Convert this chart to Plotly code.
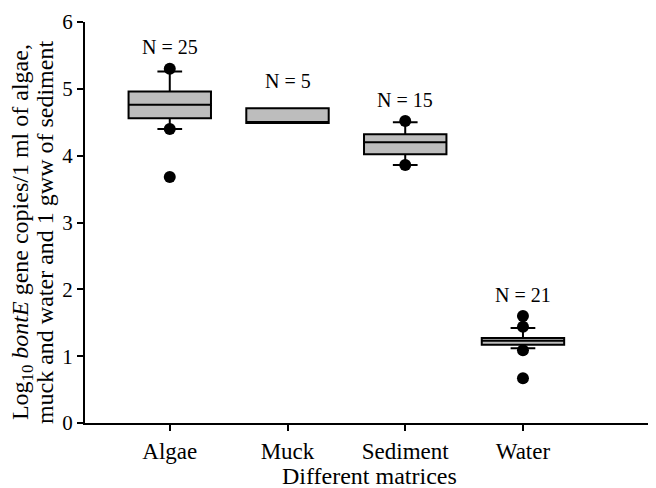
import plotly.graph_objects as go

categories = ["Algae", "Muck", "Sediment", "Water"]
q1 = [4.56, 4.49, 4.02, 1.17]
median = [4.76, 4.49, 4.20, 1.23]
q3 = [4.96, 4.71, 4.32, 1.27]
lower_whisker = [4.40, 4.49, 3.86, 1.12]
upper_whisker = [5.26, 4.71, 4.50, 1.42]

outlier_x = ["Algae", "Algae", "Algae", "Sediment", "Sediment", "Water", "Water", "Water", "Water"]
outlier_y = [5.30, 4.40, 3.68, 4.52, 3.86, 1.60, 1.44, 1.09, 0.67]

n_labels = ["N = 25", "N = 5", "N = 15", "N = 21"]
n_label_y = [5.62, 5.12, 4.83, 1.92]

y_title_lines = ["Log<sub>10</sub> <i>bontE</i> gene copies/1 ml of algae,",
                 "muck and water and 1 gww of sediment"]
x_title = "Different matrices"

font_family = "Liberation Serif, Times New Roman, serif"

fig = go.Figure()
fig.add_trace(go.Box(
    x=categories, q1=q1, median=median, q3=q3,
    lowerfence=lower_whisker, upperfence=upper_whisker,
    boxpoints=False, width=0.7, whiskerwidth=0.3,
    fillcolor="#bdbdbd", line=dict(color="black", width=2),
    showlegend=False, hoverinfo="skip",
))
fig.add_trace(go.Scatter(
    x=outlier_x, y=outlier_y, mode="markers",
    marker=dict(color="black", size=12),
    showlegend=False, hoverinfo="skip",
))
for c, t, yv in zip(categories, n_labels, n_label_y):
    fig.add_annotation(x=c, y=yv, text=t, showarrow=False,
                       font=dict(family=font_family, size=20, color="black"))

# y-axis title (two lines, tight spacing)
for shift, line in zip([-63, -40], y_title_lines):
    fig.add_annotation(xref="paper", yref="paper", x=0, y=0.476, xshift=shift,
                       xanchor="center", yanchor="middle", textangle=-90,
                       text=line, showarrow=False,
                       font=dict(family=font_family, size=24, color="black"))
# x-axis title
fig.add_annotation(xref="paper", yref="paper", x=0.499, y=-0.133,
                   xanchor="center", yanchor="middle", text=x_title, showarrow=False,
                   font=dict(family=font_family, size=24, color="black"))

# page body has an 8px margin: figure is sized/offset so the plot lands where the reference has it
fig.update_layout(
    width=648, height=480,
    margin=dict(l=77, r=0, t=14, b=65),
    plot_bgcolor="white", paper_bgcolor="white",
    font=dict(family=font_family, color="black"),
    xaxis=dict(
        type="category", categoryorder="array", categoryarray=categories,
        range=[-0.72, 4.13], showline=True, linecolor="black", linewidth=2,
        ticks="outside", ticklen=6, tickwidth=2, tickcolor="black",
        showgrid=False, zeroline=False, automargin=False,
        tickfont=dict(size=23, family=font_family),
    ),
    yaxis=dict(
        range=[0, 6], dtick=1, showline=True, linecolor="black", linewidth=2,
        ticks="outside", ticklen=6, tickwidth=2, tickcolor="black",
        showgrid=False, zeroline=False, automargin=False,
        tickfont=dict(size=21, family=font_family),
    ),
)
fig.write_html("out.html")
